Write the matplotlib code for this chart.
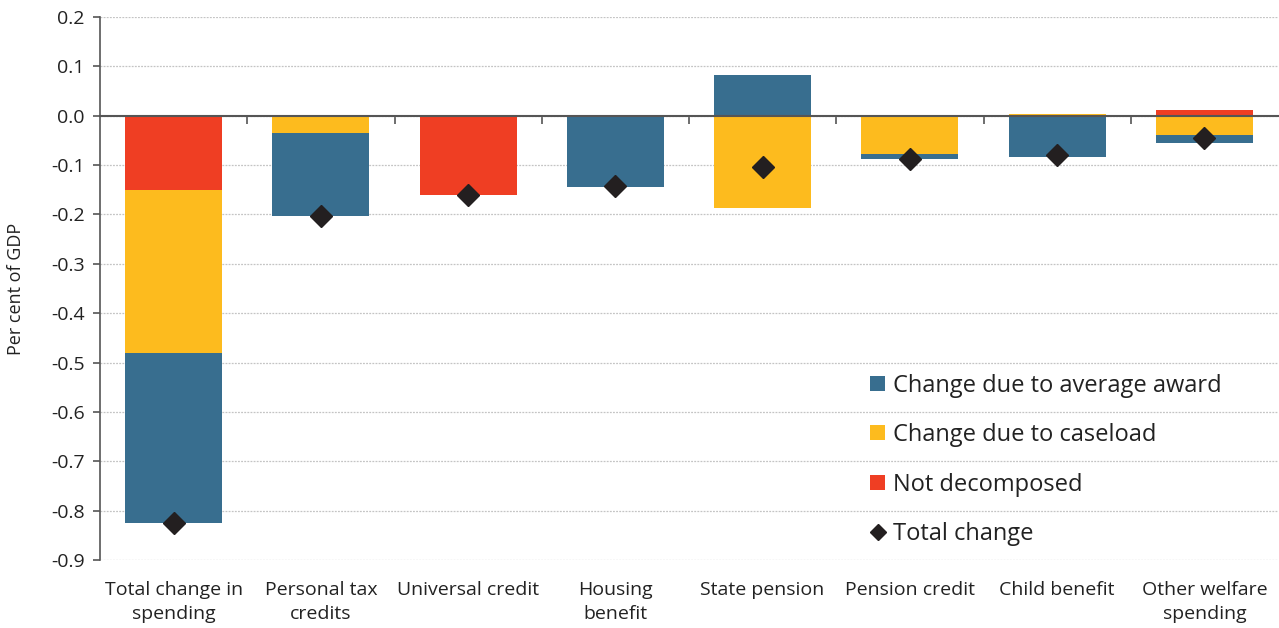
import matplotlib
matplotlib.use("Agg")
import matplotlib.pyplot as plt
from matplotlib.ticker import FuncFormatter, FixedLocator
from matplotlib.lines import Line2D
from matplotlib.patches import Patch
import numpy as np

categories = ["Total change in\nspending", "Personal tax\ncredits", "Universal credit",
              "Housing\nbenefit", "State pension", "Pension credit", "Child benefit",
              "Other welfare\nspending"]
award = [-0.344, -0.168, 0.0, -0.145, 0.082, -0.011, -0.084, -0.017]
caseload = [-0.331, -0.035, 0.0, 0.0, -0.187, -0.077, 0.004, -0.039]
not_decomposed = [-0.150, 0.0, -0.161, 0.0, 0.0, 0.0, 0.0, 0.012]
total = [-0.825, -0.203, -0.161, -0.143, -0.104, -0.087, -0.079, -0.045]

BLUE = "#386E8F"
YELLOW = "#FDBB1E"
RED = "#EF3E23"
DARK = "#231F20"
TEXT = "#222222"

plt.rcParams['font.family'] = ['Open Sans', 'DejaVu Sans']
plt.rcParams['axes.unicode_minus'] = False

fig = plt.figure(figsize=(12.79, 6.28), dpi=100)
ax = fig.add_axes([100/1279, 68/628, 1178/1279, 543/628])

x = np.arange(len(categories))
w = 0.66
pos_base = np.zeros(len(x))
neg_base = np.zeros(len(x))
for vals, col in [(not_decomposed, RED), (caseload, YELLOW), (award, BLUE)]:
    v = np.array(vals)
    bottoms = np.where(v >= 0, pos_base, neg_base)
    ax.bar(x, v, width=w, bottom=bottoms, color=col, edgecolor='none', zorder=3)
    pos_base = pos_base + np.where(v > 0, v, 0)
    neg_base = neg_base + np.where(v < 0, v, 0)

ax.plot(x, total, linestyle='none', marker='D', markersize=11, color=DARK, zorder=5)


def fmt(v, p):
    v = round(v, 1)
    if v == 0:
        v = 0.0
    return f"{v:.1f}"


ax.set_xlim(-0.5, len(categories) - 0.5)
ax.set_ylim(-0.9, 0.2)
ax.set_yticks(np.round(np.arange(-0.9, 0.21, 0.1), 1))
ax.yaxis.set_major_formatter(FuncFormatter(fmt))
ax.grid(axis='y', color='#c4c4c4', linestyle=(0, (1.5, 1)), linewidth=0.9, zorder=0)
ax.set_axisbelow(True)

for s in ['top', 'right']:
    ax.spines[s].set_visible(False)
ax.spines['left'].set_color('#555555')
ax.spines['left'].set_linewidth(1.2)
ax.spines['bottom'].set_position(('data', 0))
ax.spines['bottom'].set_color('#555555')
ax.spines['bottom'].set_linewidth(1.5)
ax.spines['bottom'].set_zorder(4)
ax.tick_params(axis='y', direction='out', length=5, width=1.2, color='#555555',
               labelsize=14, labelcolor=TEXT, pad=6)
ax.xaxis.set_major_locator(FixedLocator(np.arange(0.5, len(categories) - 0.5, 1.0)))
ax.tick_params(axis='x', direction='out', length=6, width=1.2, color='#555555', labelbottom=False)

sec = ax.secondary_xaxis('bottom')
sec.set_xticks(x)
sec.set_xticklabels(categories, linespacing=1.45)
sec.tick_params(length=0, pad=15, labelsize=14, labelcolor=TEXT)
sec.spines['bottom'].set_visible(False)

ax.set_ylabel("Per cent of GDP", fontsize=13, color=TEXT)
ax.yaxis.set_label_coords(-0.0637, 0.5)

handles = [Patch(facecolor=BLUE, edgecolor='none'),
           Patch(facecolor=YELLOW, edgecolor='none'),
           Patch(facecolor=RED, edgecolor='none'),
           Line2D([], [], linestyle='none', marker='D', markersize=8, color=DARK)]
labels = ["Change due to average award", "Change due to caseload",
          "Not decomposed", "Total change"]
leg = ax.legend(handles, labels, loc='lower left', bbox_to_anchor=(0.636, -0.013),
                frameon=False, fontsize=17, handlelength=0.6, handleheight=0.6,
                handletextpad=0.35, labelspacing=1.07, labelcolor=TEXT)

fig.savefig("out.png", dpi=100)
